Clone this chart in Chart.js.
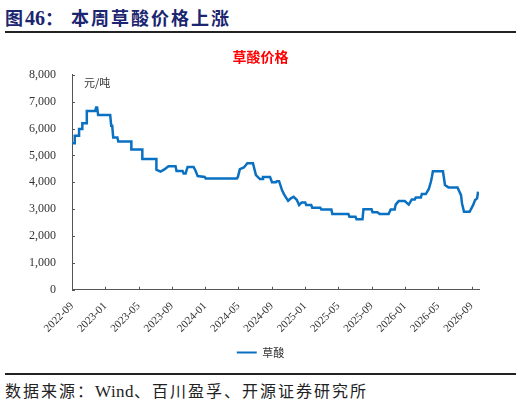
<!DOCTYPE html>
<html>
<head>
<meta charset="utf-8">
<script src="https://cdn.jsdelivr.net/npm/chart.js@4.4.0/dist/chart.umd.min.js"></script>
<style>
  html, body { margin: 0; padding: 0; background: #fff; }
  body { width: 521px; height: 407px; position: relative; overflow: hidden; }
  #head {
    position: absolute; left: 5px; top: 4px;
    font: bold 18px "Noto Sans CJK SC", "Liberation Serif", serif;
    color: #1b2570; letter-spacing: 2px;
  }
  #head .num { font-family: "Liberation Serif", serif; font-size: 20px; letter-spacing: 0; }
  #rule1 { position: absolute; left: 5px; top: 31px; width: 511px; height: 2px; background: #222; }
  #rule2 { position: absolute; left: 5px; top: 373px; width: 511px; height: 2px; background: #222; }
  #foot {
    position: absolute; left: 5px; top: 378px; letter-spacing: 2px;
    font: 16px "Noto Sans CJK SC", "Liberation Serif", serif; color: #222;
  }
  #foot .en { font-family: "Liberation Serif", serif; font-size: 17px; letter-spacing: 0.5px; }
  #wrap { position: absolute; left: 0; top: 40px; width: 521px; height: 328px; }
</style>
</head>
<body>
<div id="head">图<span class="num">46</span>：&nbsp;本周草酸价格上涨</div>
<div id="rule1"></div>
<div id="wrap"><canvas id="c"></canvas></div>
<div id="rule2"></div>
<div id="foot">数据来源：<span class="en">Wind</span>、百川盈孚、开源证券研究所</div>
<script>
// x = months since 2022-09
const tickLabels = ["2022-09", "2023-01", "2023-05", "2023-09", "2024-01", "2024-05", "2024-09",
  "2025-01", "2025-05", "2025-09", "2026-01", "2026-05", "2026-09"];

const months = [
  0, 0.33, 0.33, 0.85, 0.85, 1.24, 1.24, 1.78, 1.78, 2.78, 2.90, 3.02, 3.14, 4.59, 4.71, 4.83,
  4.95, 5.45, 5.56, 7.13, 7.13, 8.45, 8.45, 10.14, 10.14, 10.63, 11.1, 11.59, 12.44, 12.56,
  13.29, 13.41, 13.65, 13.89, 14.61, 14.86, 15.10, 15.94, 16.06, 19.81, 19.93, 20.17, 20.65,
  21.07, 21.74, 22.10, 22.58, 22.95, 22.95, 23.79, 24.03, 24.5, 24.6, 24.88, 25.24, 25.48,
  25.97, 26.3, 26.63, 27.0, 27.29, 27.60, 28.02, 28.14, 28.74, 28.86, 29.83, 29.95, 31.16,
  31.28, 33.21, 33.33, 34.06, 34.18, 34.90, 35.02, 35.99, 36.11, 36.71, 36.96, 38.04, 38.29,
  38.77, 38.89, 39.25, 39.98, 40.46, 40.82, 41.18, 41.30, 41.91, 42.03, 42.51, 42.87, 43.12,
  43.24, 43.36, 44.57, 44.81, 45.23, 46.32, 46.74, 46.86, 47.10, 47.77, 48.19, 48.43, 48.67, 48.79
];
const prices = [
  5450, 5450, 5730, 5730, 5980, 5980, 6200, 6200, 6650, 6650, 6780, 6780, 6500, 6500, 6100, 6100,
  5670, 5670, 5520, 5520, 5220, 5220, 4870, 4870, 4470, 4400, 4480, 4600, 4600, 4420,
  4420, 4330, 4330, 4570, 4570, 4420, 4230, 4200, 4140, 4140, 4200, 4490, 4550,
  4710, 4710, 4270, 4120, 4120, 4200, 4200, 4000, 4000, 4040, 4040, 3700, 3550,
  3310, 3400, 3460, 3350, 3150, 3250, 3250, 3150, 3150, 3050, 3050, 2990, 2990,
  2820, 2820, 2720, 2720, 2620, 2620, 3000, 3000, 2880, 2880, 2820, 2820, 2990,
  2990, 3170, 3300, 3300, 3170, 3360, 3360, 3430, 3430, 3560, 3560, 3750, 4020,
  4200, 4410, 4410, 3900, 3810, 3810, 3520, 3210, 2900, 2900, 3150, 3340, 3400, 3650
];

const lineBlue = "#0a70c2";
const axisColor = "#555";
const serif = "'Liberation Serif', 'Times New Roman', serif";

// inward tick marks + unit label
const decor = {
  id: "decor",
  afterDraw(chart) {
    const ctx = chart.ctx;
    const x = chart.scales.x, y = chart.scales.y;
    ctx.save();
    ctx.strokeStyle = axisColor;
    ctx.lineWidth = 1;
    ctx.beginPath();
    y.ticks.forEach((t) => {
      const py = Math.round(y.getPixelForValue(t.value)) + 0.5;
      ctx.moveTo(x.left, py);
      ctx.lineTo(x.left + 3, py);
    });
    x.ticks.forEach((t) => {
      const px = Math.round(x.getPixelForValue(t.value)) + 0.5;
      ctx.moveTo(px, y.bottom);
      ctx.lineTo(px, y.bottom - 3);
    });
    ctx.stroke();
    ctx.fillStyle = "#333";
    ctx.font = "11px 'Noto Sans CJK SC', sans-serif";
    ctx.textBaseline = "middle";
    ctx.fillText("元/吨", x.left + 12, y.top + 8);
    ctx.restore();
  },
};

new Chart(document.getElementById("c"), {
  type: "line",
  data: {
    datasets: [
      {
        label: "草酸",
        data: months.map((m, i) => ({ x: m, y: prices[i] })),
        borderColor: lineBlue,
        backgroundColor: lineBlue,
        borderWidth: 2.5,
        pointRadius: 0,
        tension: 0,
      },
    ],
  },
  options: {
    responsive: true,
    maintainAspectRatio: false,
    animation: false,
    layout: { padding: { left: 2, right: 2, top: 0, bottom: 0 } },
    plugins: {
      title: {
        display: true,
        text: "草酸价格",
        color: "#ff0000",
        font: { family: "'Noto Sans CJK SC', sans-serif", size: 14, weight: "bold" },
        padding: { top: 8, bottom: 10 },
      },
      legend: {
        position: "bottom",
        labels: {
          boxWidth: 20,
          boxHeight: 2,
          color: "#333",
          font: { family: "'Noto Sans CJK SC', sans-serif", size: 11 },
          padding: 10,
          generateLabels(chart) {
            return Chart.defaults.plugins.legend.labels.generateLabels(chart).map((l) => ({
              ...l,
              lineWidth: 0,
            }));
          },
        },
      },
      tooltip: { enabled: false },
    },
    scales: {
      x: {
        type: "linear",
        min: 0,
        max: 48.9,
        grid: { display: false },
        border: { display: true, color: axisColor, width: 1 },
        afterBuildTicks(scale) {
          scale.ticks = tickLabels.map((_, i) => ({ value: i * 4 }));
        },
        afterFit(scale) {
          scale.paddingRight = 42;
        },
        ticks: {
          autoSkip: false,
          maxRotation: 45,
          minRotation: 45,
          color: "#333",
          font: { family: serif, size: 11 },
          padding: 2,
          callback: (v) => tickLabels[v / 4],
        },
      },
      y: {
        min: 0,
        max: 8000,
        grid: { display: false },
        border: { display: true, color: axisColor, width: 1 },
        afterFit(scale) {
          scale.width = 70;
        },
        ticks: {
          stepSize: 1000,
          color: "#333",
          font: { family: serif, size: 12 },
          padding: 8,
          callback: (v) => v.toLocaleString("en-US"),
        },
      },
    },
  },
  plugins: [decor],
});
</script>
</body>
</html>
